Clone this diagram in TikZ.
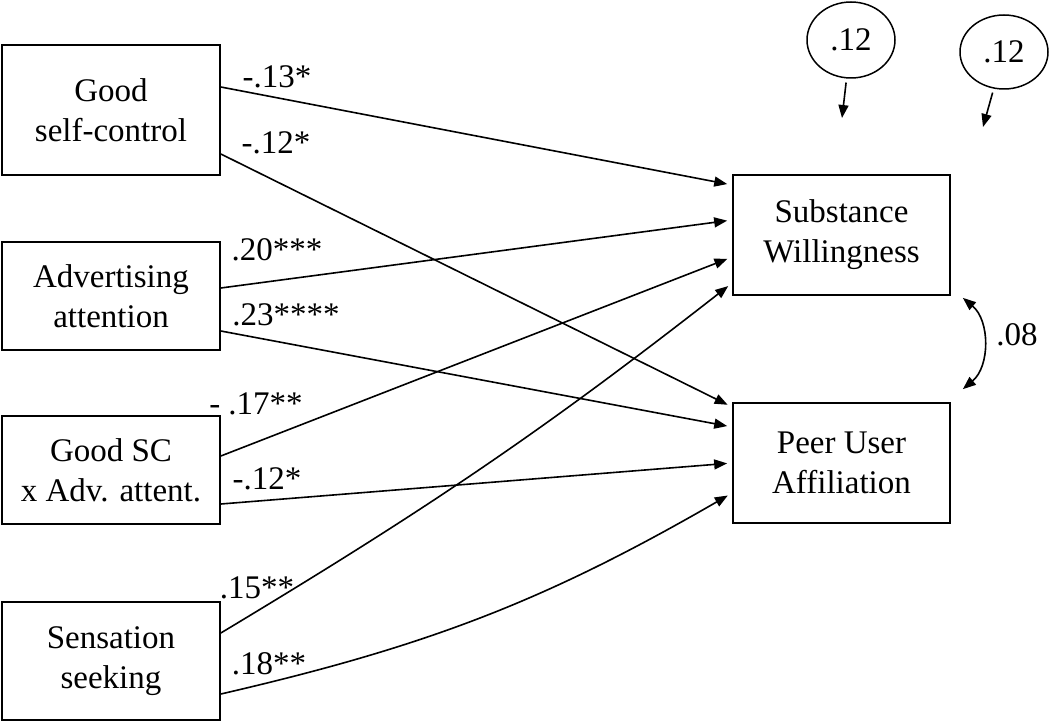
\documentclass[tikz,border=0pt]{standalone}
\usepackage{fontspec}
\setmainfont{Liberation Serif}
\usepackage{tikz}
\usetikzlibrary{arrows.meta,positioning,shapes.geometric,calc}

\tikzset{
  varbox/.style={draw, line width=0.85pt, align=center, minimum width=109pt,
    inner sep=0pt, font=\fontsize{16.5}{20}\selectfont},
  errcirc/.style={draw, ellipse, line width=0.75pt, minimum width=44pt,
    minimum height=38pt, inner sep=0pt, font=\fontsize{16.5}{20}\selectfont},
  pathline/.style={-{Triangle[length=6.5pt,width=5pt]}, line width=0.8pt, shorten >=2.5pt},
  coef/.style={inner sep=0pt, font=\fontsize{16.5}{20}\selectfont}
}

\begin{document}
\begin{tikzpicture}[x=0.5pt,y=-0.5pt]
    \useasboundingbox (0,0) rectangle (1050,722);

    % Predictors
    \node[varbox, minimum height=65pt] (gsc) at (111,110) {Good\\self-control};
    \node[varbox, minimum height=54pt] (adv) at (111,296) {Advertising\\attention};
    \node[varbox, minimum height=54pt] (gscadv) at (111,470) {Good SC\\x Adv. attent.};
    \node[varbox, minimum height=59pt] (sens) at (111,661) {Sensation\\seeking};

    % Outcomes
    \node[varbox, minimum width=108.5pt, minimum height=60pt] (sw) at (841.5,235) {Substance\\Willingness};
    \node[varbox, minimum width=108.5pt, minimum height=60pt] (pua) at (841.5,463) {Peer User\\Affiliation};

    % Residuals
    \node[errcirc] (err1) at (851,40) {.12};
    \node[errcirc, minimum height=37pt] (err2) at (1004,52) {.12};
    \coordinate (res1) at (842,118);
    \coordinate (res2) at (983,127);
    \draw[pathline, shorten >=0pt, shorten <=2pt] (err1) -- (res1);
    \draw[pathline, shorten >=0pt, shorten <=2pt] (err2) -- (res2);

    % Paths
    \draw[pathline] ([yshift=11.5pt]gsc.east) -- ([yshift=25pt]sw.west);
    \draw[pathline] ([yshift=-22pt]gsc.east) -- ([yshift=28pt]pua.west);
    \draw[pathline] ([yshift=4pt]adv.east) -- ([yshift=7.5pt]sw.west);
    \draw[pathline] ([yshift=-17.5pt]adv.east) -- ([yshift=18pt]pua.west);
    \draw[pathline] ([yshift=7pt]gscadv.east) -- ([yshift=-11pt]sw.west);
    \draw[pathline] ([yshift=-17pt]gscadv.east) -- (pua.west);
    \draw[pathline] ([yshift=14pt]sens.east) to[out=31,in=218] ([yshift=-24pt]sw.west);
    \draw[pathline] ([yshift=-16.5pt]sens.east) to[out=13,in=210] ([yshift=-15pt]pua.west);

    % Path labels
    \node[coef] (c1) at (277,77) {-.13*};
    \node[coef] (c2) at (276,143) {-.12*};
    \node[coef] (c3) at (277,250) {.20***};
    \node[coef] (c4) at (286,315) {.23****};
    \node[coef] (c5) at (256,404) {- .17**};
    \node[coef] (c6) at (267,479) {-.12*};
    \node[coef] (c7) at (257,588) {.15**};
    \node[coef] (c8) at (269,664) {.18**};

    % Residual covariance
    \coordinate (cov1) at ($(sw.south east)+(6pt,-1pt)$);
    \coordinate (cov2) at ($(pua.north east)+(6pt,6.5pt)$);
    \draw[{Triangle[length=6.5pt,width=5pt]}-{Triangle[length=6.5pt,width=5pt]}, line width=0.8pt]
        (cov1) to[bend left=50] (cov2);
    \node[coef] (c9) at (1017,335) {.08};

\end{tikzpicture}
\end{document}
